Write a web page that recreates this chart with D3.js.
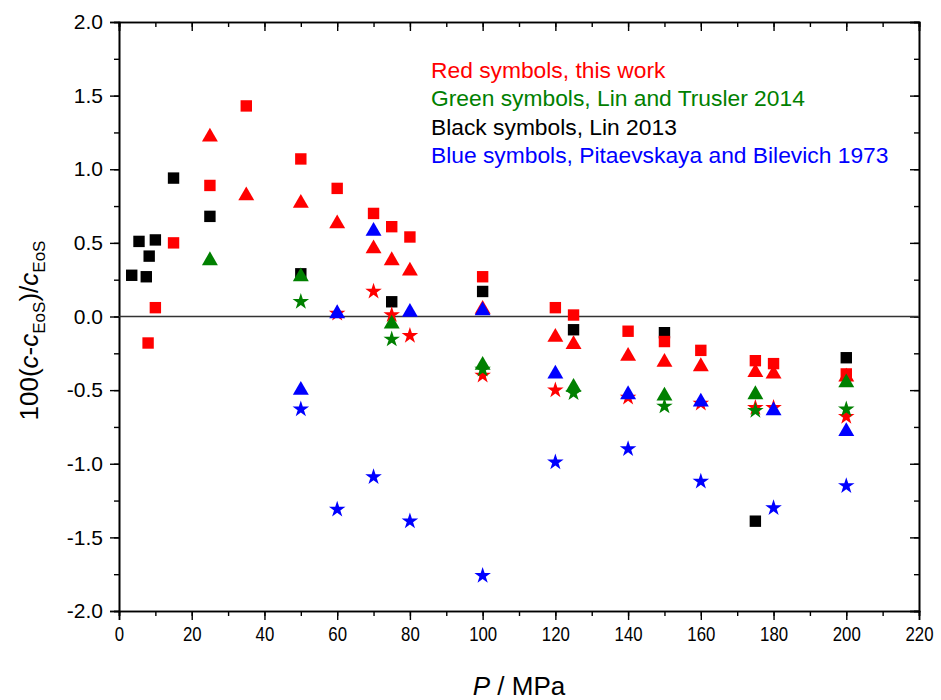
<!DOCTYPE html>
<html><head><meta charset="utf-8">
<script src="https://cdn.jsdelivr.net/npm/d3@7"></script>
<style>
html,body{margin:0;padding:0;background:#fff;}
svg text{font-family:"Liberation Sans",Arial,sans-serif;}
</style></head>
<body>
<svg id="chart" width="941" height="700"></svg>
<script>
// ---- data ----
const xTicks = [0,20,40,60,80,100,120,140,160,180,200,220];
const yTicks = [-2.0,-1.5,-1.0,-0.5,0.0,0.5,1.0,1.5,2.0];

const blackSquareP = [3.5,5.5,7.5,8.3,10,15,25,50,75,100,125,150,175,200];
const blackSquareV = [0.28,0.51,0.27,0.41,0.52,0.94,0.68,0.29,0.10,0.17,-0.09,-0.11,-1.39,-0.28];

const redSquareP = [8,10,15,25,35,50,60,70,75,80,100,120,125,140,150,160,175,180,200];
const redSquareV = [-0.18,0.06,0.50,0.89,1.43,1.07,0.87,0.70,0.61,0.54,0.27,0.06,0.01,-0.10,-0.17,-0.23,-0.30,-0.32,-0.39];

const redTriP = [25,35,50,60,70,75,80,100,120,125,140,150,160,175,180,200];
const redTriV = [1.22,0.82,0.77,0.63,0.46,0.38,0.31,0.05,-0.14,-0.19,-0.27,-0.31,-0.34,-0.38,-0.39,-0.41];

const redStarP = [60,70,75,80,100,120,140,160,175,180,200];
const redStarV = [0.02,0.17,0.01,-0.13,-0.40,-0.50,-0.55,-0.59,-0.62,-0.62,-0.68];

const greenTriP = [25,50,75,100,125,150,175,200];
const greenTriV = [0.38,0.27,-0.05,-0.33,-0.48,-0.54,-0.53,-0.45];

const greenStarP = [50,75,100,125,150,175,200];
const greenStarV = [0.10,-0.155,-0.36,-0.52,-0.61,-0.64,-0.63];

const blueTriP = [50,60,70,80,100,120,140,160,180,200];
const blueTriV = [-0.50,0.02,0.58,0.03,0.04,-0.39,-0.53,-0.58,-0.64,-0.78];

const blueStarP = [50,60,70,80,100,120,140,160,180,200];
const blueStarV = [-0.63,-1.31,-1.09,-1.39,-1.76,-0.99,-0.90,-1.12,-1.30,-1.15];

const legendLines = [
  {text:"Red symbols, this work", color:"#ff0000"},
  {text:"Green symbols, Lin and Trusler 2014", color:"#008000"},
  {text:"Black symbols, Lin 2013", color:"#000000"},
  {text:"Blue symbols, Pitaevskaya and Bilevich 1973", color:"#0000ff"}
];

// ---- layout ----
const L = 119, R = 919, T = 22, B = 611;
const svg = d3.select("#chart");
const x = d3.scaleLinear().domain([0,220]).range([L,R]);
const y = d3.scaleLinear().domain([-2,2]).range([B,T]);

const minorX = d3.range(0,221,10);
const minorY = d3.range(-2,2.001,0.25);
const fmtY = d => d3.format(".1f")(d).replace("\u2212","-");

// axes
const gB = svg.append("g").attr("transform",`translate(0,${B})`);
gB.call(d3.axisBottom(x).tickValues(minorX).tickSize(5).tickFormat(""));
const gBm = gB.append("g").call(d3.axisBottom(x).tickValues(xTicks).tickSize(9).tickPadding(6).tickFormat(d3.format("d")));
const gL = svg.append("g").attr("transform",`translate(${L},0)`);
gL.call(d3.axisLeft(y).tickValues(minorY).tickSize(5).tickFormat(""));
const gLm = gL.append("g").call(d3.axisLeft(y).tickValues(yTicks).tickSize(9).tickPadding(7).tickFormat(fmtY));
const gT = svg.append("g").attr("transform",`translate(0,${T})`);
gT.call(d3.axisBottom(x).tickValues(minorX).tickSize(5).tickFormat(""));
gT.append("g").call(d3.axisBottom(x).tickValues(xTicks).tickSize(9).tickFormat(""));
const gR = svg.append("g").attr("transform",`translate(${R},0)`);
gR.call(d3.axisLeft(y).tickValues(minorY).tickSize(5).tickFormat(""));
gR.append("g").call(d3.axisLeft(y).tickValues(yTicks).tickSize(9).tickFormat(""));

svg.selectAll(".domain").attr("stroke","#000").attr("stroke-width",1.6);
svg.selectAll(".tick line").attr("stroke","#000").attr("stroke-width",1.4);
gBm.selectAll(".tick text").attr("font-size",21).attr("fill","#000")
  .attr("transform","scale(0.8,1)");
gLm.selectAll(".tick text").attr("font-size",21).attr("fill","#000");

// zero line
svg.append("line").attr("x1",L).attr("x2",R).attr("y1",y(0)).attr("y2",y(0))
  .attr("stroke","#333").attr("stroke-width",1.5);

// markers
const sq = d3.symbol().type(d3.symbolSquare).size(130);
const tri = d3.symbol().type(d3.symbolTriangle).size(110);
const star = d3.symbol().type(d3.symbolStar).size(85);
function draw(P,V,sym,color){
  svg.append("g").selectAll("path").data(P.map((p,i)=>[p,V[i]])).join("path")
    .attr("d",sym).attr("fill",color)
    .attr("transform",d=>`translate(${x(d[0])},${y(d[1])})`);
}
draw(blackSquareP,blackSquareV,sq,"#000000");
draw(redSquareP,redSquareV,sq,"#ff0000");
draw(redTriP,redTriV,tri,"#ff0000");
draw(redStarP,redStarV,star,"#ff0000");
draw(greenTriP,greenTriV,tri,"#008000");
draw(greenStarP,greenStarV,star,"#008000");
draw(blueTriP,blueTriV,tri,"#0000ff");
draw(blueStarP,blueStarV,star,"#0000ff");

// legend text
svg.append("g").selectAll("text").data(legendLines).join("text")
  .attr("x",431).attr("y",(d,i)=>78+i*28.4)
  .attr("font-size",22.8).attr("fill",d=>d.color).text(d=>d.text);

// axis titles
const xt = svg.append("text").attr("x",x(110)).attr("y",695).attr("text-anchor","middle").attr("font-size",26);
xt.append("tspan").attr("font-style","italic").text("P");
xt.append("tspan").text(" / MPa");

const yt = svg.append("text").attr("transform",`translate(38,${y(0)+14}) rotate(-90)`)
  .attr("text-anchor","middle").attr("font-size",26);
yt.append("tspan").text("100(");
yt.append("tspan").attr("font-style","italic").text("c");
yt.append("tspan").text("-");
yt.append("tspan").attr("font-style","italic").text("c");
yt.append("tspan").attr("font-size",17).attr("dy",7).text("EoS");
yt.append("tspan").attr("dy",-7).text(")/");
yt.append("tspan").attr("font-style","italic").text("c");
yt.append("tspan").attr("font-size",17).attr("dy",7).text("EoS");
</script>
</body></html>
